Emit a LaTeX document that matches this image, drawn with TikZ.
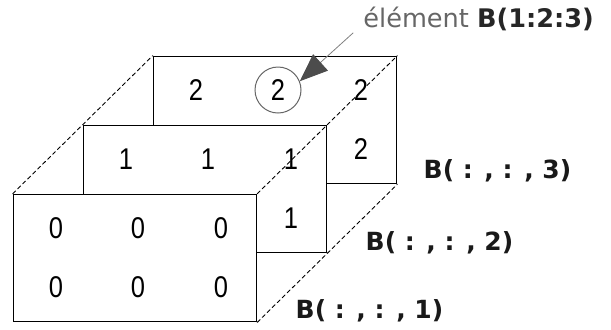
\documentclass[tikz,border=0pt]{standalone}
\usepackage{fontspec}
\setmainfont{DejaVu Sans}
\newfontfamily\cellfont[FakeStretch=0.85]{Liberation Sans}
\usepackage{xcolor}
\usetikzlibrary{arrows.meta}

\begin{document}
\begin{tikzpicture}[x=0.5pt, y=-0.5pt, line cap=round,
    slice/.style={draw, fill=white, line width=0.8pt, minimum width=121.5pt,
                  minimum height=63.5pt, inner sep=0pt},
    cell/.style={font=\cellfont\fontsize{15}{15}\selectfont, inner sep=0pt},
    edge/.style={line width=0.45pt, dash pattern=on 2pt off 1.5pt},
    tag/.style={anchor=base west, inner sep=0pt,
                font=\bfseries\fontsize{12.5}{12.5}\selectfont, text=black!90},
    ring/.style={circle, draw=black!60, line width=0.5pt, minimum size=23pt, inner sep=0pt},
    pointer/.style={draw=black!50, line width=0.4pt,
                    -{Triangle[length=14pt, width=11pt, color=black!70]}}]

  \useasboundingbox (0,0) rectangle (611,329);

  % ---- slices, back to front: each one hides the one behind it -------------
  \foreach \s/\x/\y/\v in {3/275/120/2, 2/205/189/1, 1/135/258/0}{
    \node[slice] (s\s) at (\x,\y) {};
    \foreach \r/\dy in {1/-30, 2/29}{
      \foreach \c/\dx in {1/-79, 2/3, 3/86}{
        \node[cell] (c\s\r\c) at ([shift={(\dx,\dy)}]s\s.center) {\v};}}}

  % ---- edges of the block, seen through the slices -------------------------
  \draw[edge] (s1.north west) -- (s3.north west);
  \draw[edge] (s1.north east) -- (s3.north east);
  \draw[edge] (s1.south east) -- (s3.south east);

  % ---- one label per slice -------------------------------------------------
  \foreach \s/\dx/\dy in {3/26/-6, 2/38/-3, 1/38/-4}{
    \node[tag] (t\s) at ([shift={(\dx,\dy)}]s\s.south east) {B( : , : , \s)};}

  % ---- the picked element --------------------------------------------------
  \node[ring] (ring) at (c312) {};
  \node[anchor=base west, inner sep=0pt, font=\fontsize{12.8}{12.8}\selectfont]
    (elem) at (363,27) {\textcolor{black!60}{élément} \textcolor{black!85}{\bfseries B(1:2:3)}};
  \coordinate (tail) at ([shift={(-10,6)}]elem.base west);
  \draw[pointer] (tail) -- (ring.22);
\end{tikzpicture}
\end{document}
